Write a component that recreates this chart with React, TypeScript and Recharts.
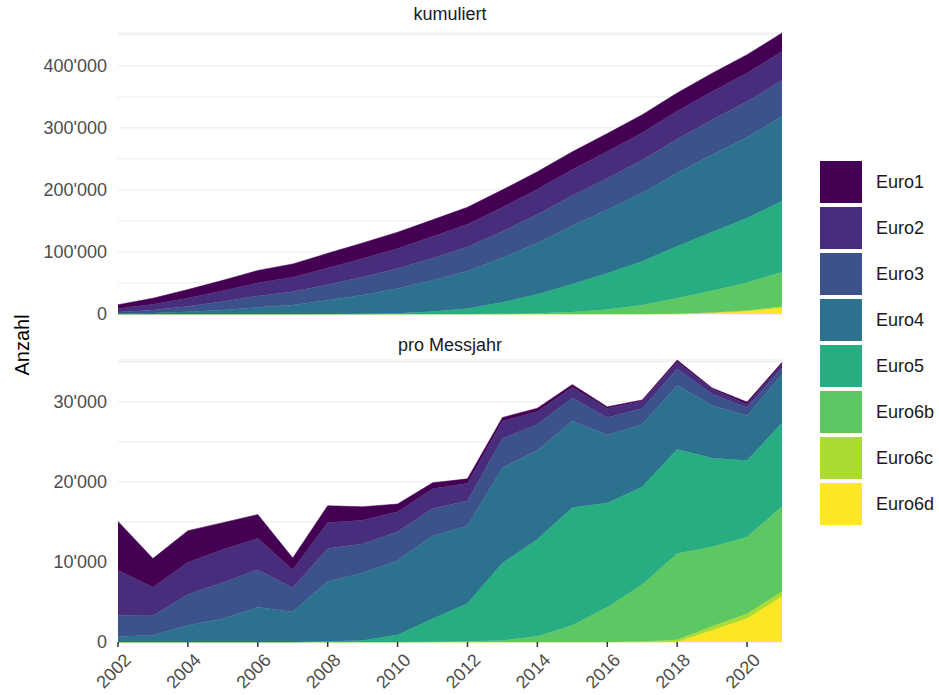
import { Area, AreaChart, CartesianGrid, XAxis, YAxis } from "recharts";

const years = [2002, 2003, 2004, 2005, 2006, 2007, 2008, 2009, 2010, 2011, 2012, 2013, 2014, 2015, 2016, 2017, 2018, 2019, 2020, 2021];

// Fahrzeuge pro Messjahr, je Abgasnorm
const euro1 = [6090, 3570, 3940, 3350, 2980, 1470, 2100, 1680, 970, 750, 550, 430, 420, 340, 170, 130, 250, 120, 260, 170];
const euro2 = [5670, 3570, 3990, 4110, 3910, 2270, 3240, 2940, 2480, 2440, 2180, 2180, 1600, 1340, 1170, 920, 840, 630, 410, 510];
const euro3 = [2600, 2440, 3870, 4540, 4700, 2980, 4120, 3660, 3610, 3440, 3150, 3660, 3230, 2860, 2190, 2020, 2060, 1430, 1050, 840];
const euro4 = [700, 840, 2100, 2900, 4330, 3780, 7460, 8410, 9250, 10340, 9670, 11890, 11130, 10800, 8490, 7770, 7980, 6560, 5590, 6010];
const euro5 = [0, 0, 0, 0, 0, 0, 100, 200, 920, 2870, 4750, 9670, 12110, 14700, 13020, 12190, 13030, 11090, 9540, 10460];
const euro6b = [0, 0, 0, 0, 0, 0, 0, 0, 0, 30, 80, 200, 710, 2100, 4330, 7140, 10760, 9920, 9580, 10630];
const euro6c = [0, 0, 0, 0, 0, 0, 0, 0, 0, 0, 0, 0, 0, 0, 0, 50, 290, 500, 590, 630];
const euro6d = [0, 0, 0, 0, 0, 0, 0, 0, 0, 0, 0, 0, 0, 0, 0, 0, 0, 1470, 2940, 5670];

const names = ["Euro1", "Euro2", "Euro3", "Euro4", "Euro5", "Euro6b", "Euro6c", "Euro6d"];
const series = [euro1, euro2, euro3, euro4, euro5, euro6b, euro6c, euro6d];
const colors = ["#440154", "#472D7B", "#3B528B", "#2C728E", "#27AD81", "#5DC863", "#AADC32", "#FDE725"];

const xTicks = [2002, 2004, 2006, 2008, 2010, 2012, 2014, 2016, 2018, 2020];
const topTicks = [0, 50000, 100000, 150000, 200000, 250000, 300000, 350000, 400000, 450000];
const bottomTicks = [0, 5000, 10000, 15000, 20000, 25000, 30000, 35000];

const perYear = years.map((year, i) => {
  const row: Record<string, number> = { year };
  names.forEach((n, k) => (row[n] = series[k][i]));
  return row;
});

// kumuliert = laufende Summe der Jahreswerte
const cumulative = years.map((year, i) => {
  const row: Record<string, number> = { year };
  names.forEach((n, k) => {
    row[n] = series[k].slice(0, i + 1).reduce((a, b) => a + b, 0);
  });
  return row;
});

const font = "'Liberation Sans', Arial, sans-serif";
const fmt = (v: number) => String(v).replace(/\B(?=(\d{3})+(?!\d))/g, "'");

const XTick = (props: any) => {
  const { x, y, payload } = props;
  return (
    <g transform={`translate(${x + 5},${y + 3}) rotate(-45)`}>
      <text textAnchor="end" dy="0.72em" fontSize={18} fill="#4D4D4D" fontFamily={font}>
        {payload.value}
      </text>
    </g>
  );
};

function areas() {
  // unterste Schicht zuerst: Euro6d ... Euro1
  return names
    .map((n, k) => (
      <Area
        key={n}
        type="linear"
        dataKey={n}
        stackId="a"
        fill={colors[k]}
        fillOpacity={1}
        stroke={colors[k]}
        strokeWidth={0.5}
        dot={false}
        activeDot={false}
        isAnimationActive={false}
      />
    ))
    .reverse();
}

export default function App() {
  return (
    <div style={{ position: "absolute", left: 0, top: 0, width: 939, height: 695, background: "#fff", fontFamily: font }}>
      <span style={{ position: "absolute", left: 450, top: 4, transform: "translateX(-50%)", fontSize: 18, color: "#1A1A1A", whiteSpace: "nowrap" }}>
        kumuliert
      </span>
      <span style={{ position: "absolute", left: 450, top: 335, transform: "translateX(-50%)", fontSize: 18, color: "#1A1A1A", whiteSpace: "nowrap" }}>
        pro Messjahr
      </span>
      <div
        style={{
          position: "absolute",
          left: 22,
          top: 345,
          transform: "translate(-50%, -50%) rotate(-90deg)",
          fontSize: 20,
          color: "#000",
        }}
      >
        Anzahl
      </div>

      <div style={{ position: "absolute", left: 0, top: 0 }}>
        <AreaChart width={800} height={330} data={cumulative} margin={{ top: 33, right: 18, bottom: 16, left: 0 }}>
          <CartesianGrid vertical={false} stroke="#EBEBEB" strokeWidth={1} />
          <XAxis dataKey="year" type="number" domain={[2002, 2021]} hide />
          <YAxis
            type="number"
            domain={[0, 452790]}
            ticks={topTicks}
            width={118}
            tickLine={false}
            axisLine={false}
            tickMargin={5}
            tickFormatter={(v: number) => (v % 100000 === 0 ? fmt(v) : "")}
            tick={{ fontSize: 18, fill: "#4D4D4D", fontFamily: font }}
          />
          {areas()}
        </AreaChart>
      </div>

      <div style={{ position: "absolute", left: 0, top: 340 }}>
        <AreaChart width={800} height={355} data={perYear} margin={{ top: 20, right: 18, bottom: 0, left: 0 }}>
          <CartesianGrid vertical={false} stroke="#EBEBEB" strokeWidth={1} />
          <XAxis
            dataKey="year"
            type="number"
            domain={[2002, 2021]}
            ticks={xTicks}
            height={53}
            axisLine={false}
            tickLine={{ stroke: "#333333", strokeWidth: 1.5 }}
            tickSize={5}
            tick={<XTick />}
            interval={0}
          />
          <YAxis
            type="number"
            domain={[0, 35210]}
            ticks={bottomTicks}
            width={118}
            tickLine={false}
            axisLine={false}
            tickMargin={5}
            tickFormatter={(v: number) => (v % 10000 === 0 ? fmt(v) : "")}
            tick={{ fontSize: 18, fill: "#4D4D4D", fontFamily: font }}
          />
          {areas()}
        </AreaChart>
      </div>

      {names.map((n, k) => (
        <div key={n}>
          <div
            style={{
              position: "absolute",
              left: 820,
              top: 161 + k * 46,
              width: 42,
              height: 42,
              background: colors[k],
            }}
          />
          <div
            style={{
              position: "absolute",
              left: 876,
              top: 161 + k * 46,
              height: 42,
              lineHeight: "42px",
              fontSize: 18,
              color: "#1A1A1A",
            }}
          >
            {n}
          </div>
        </div>
      ))}
    </div>
  );
}
